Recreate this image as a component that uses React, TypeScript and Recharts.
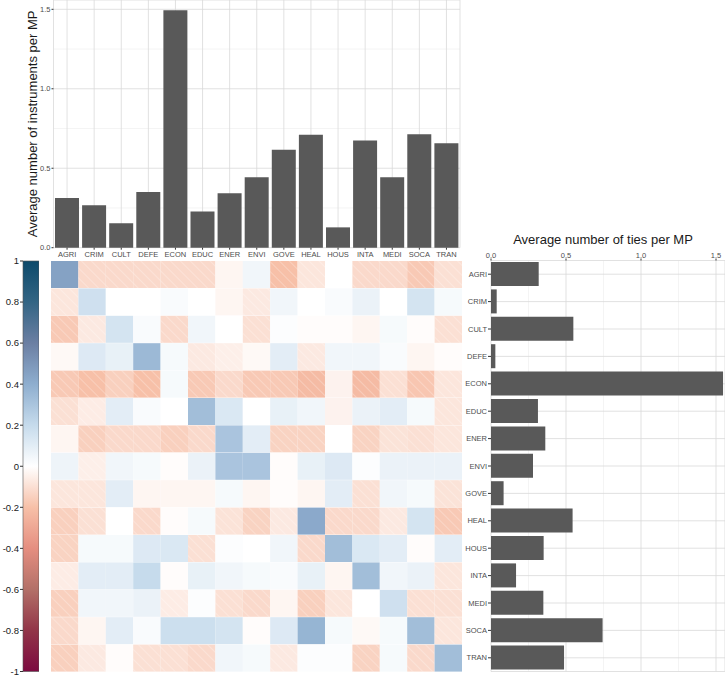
import React from "react";
import {
  BarChart,
  Bar,
  XAxis,
  YAxis,
  CartesianGrid,
} from "recharts";

const CATEGORIES = ["AGRI", "CRIM", "CULT", "DEFE", "ECON", "EDUC", "ENER", "ENVI", "GOVE", "HEAL", "HOUS", "INTA", "MEDI", "SOCA", "TRAN"];

// average number of instruments per MP (top bars)
const INSTRUMENTS = [0.313, 0.267, 0.154, 0.351, 1.494, 0.227, 0.343, 0.443, 0.617, 0.71, 0.128, 0.674, 0.443, 0.714, 0.657];

// average number of ties per MP (right bars)
const TIES = [0.318, 0.038, 0.549, 0.029, 1.547, 0.313, 0.362, 0.28, 0.084, 0.544, 0.351, 0.167, 0.349, 0.744, 0.487];

// association matrix, rows / columns in CATEGORIES order
const MATRIX = [
  [0.45, -0.12, -0.12, -0.12, -0.12, -0.12, -0.03, 0.05, -0.2, -0.08, 0, -0.12, -0.12, -0.17, -0.1],
  [-0.08, 0.17, 0, 0, 0.02, 0, -0.03, -0.07, 0.05, 0, 0.02, 0.07, 0, 0.15, 0.03],
  [-0.17, -0.07, 0.15, 0.02, -0.12, 0.05, 0, -0.1, 0.01, -0.01, -0.01, -0.03, 0.03, -0.01, -0.1],
  [-0.02, 0.12, 0.08, 0.35, 0.03, -0.07, -0.05, -0.02, 0.1, -0.07, 0.05, 0.05, 0.02, -0.03, -0.01],
  [-0.17, -0.2, -0.15, -0.2, 0.03, -0.17, -0.12, -0.17, -0.17, -0.22, -0.04, -0.22, -0.1, -0.18, -0.08],
  [-0.1, -0.06, 0.1, 0.02, 0, 0.33, 0.13, 0, 0.08, 0.05, -0.04, 0.07, 0.1, 0.03, -0.08],
  [-0.03, -0.15, -0.12, -0.12, -0.15, -0.12, 0.3, 0.1, -0.14, -0.14, 0, -0.14, -0.09, -0.1, -0.08],
  [0.06, -0.05, 0.05, 0.03, -0.01, 0.07, 0.3, 0.3, -0.01, 0.08, 0.12, 0.01, 0.07, 0.07, 0.07],
  [-0.08, -0.08, 0.1, -0.03, -0.03, -0.03, 0.03, -0.03, -0.01, -0.03, 0.1, -0.1, 0.05, 0.03, -0.09],
  [-0.15, -0.1, 0, -0.12, -0.01, 0.03, -0.09, -0.14, -0.07, 0.42, -0.12, -0.12, -0.07, 0.15, -0.17],
  [-0.14, 0.03, 0.03, 0.12, 0.13, -0.1, 0.01, 0, 0.05, -0.12, 0.33, 0.13, 0.1, -0.01, 0.1],
  [-0.06, 0.1, 0.1, 0.2, -0.01, 0.08, 0.05, 0.03, 0.02, 0.08, -0.03, 0.33, 0.05, 0.07, -0.08],
  [-0.15, 0.05, 0.05, 0.07, -0.06, 0.01, -0.1, -0.12, -0.03, -0.15, -0.08, 0, 0.17, -0.1, -0.1],
  [-0.12, -0.03, 0.1, 0.02, 0.18, 0.18, 0.15, -0.01, 0.12, 0.37, 0.03, -0.02, 0.03, 0.33, -0.08],
  [-0.15, -0.07, -0.01, -0.1, -0.1, -0.12, 0.05, 0.03, -0.07, 0.01, 0.01, -0.14, 0.03, -0.12, 0.33],
];

const SCALE_TICKS = [1, 0.8, 0.6, 0.4, 0.2, 0, -0.2, -0.4, -0.6, -0.8, -1];
const SCALE_COLORS = ["#0d4a6b", "#336584", "#6b7fa3", "#8eaecf", "#c6dbec", "#ffffff", "#f7c0a8", "#e58e80", "#b37068", "#923548", "#7c0a40"];

const BAR_MAX = 1.5586;
const TIES_MAX = 1.56;
const MINOR = [0.25, 0.75, 1.25];

const FONT = "'Liberation Sans', Arial, sans-serif";
const TICK = { fontSize: 7.5, fill: "#4d4d4d", fontFamily: FONT };
const GRID = "#d9d9d9";

function hexToRgb(h: string) {
  const n = parseInt(h.slice(1), 16);
  return [(n >> 16) & 255, (n >> 8) & 255, n & 255];
}

function colorFor(v: number) {
  // SCALE_TICKS goes from 1 down to -1
  const pos = (1 - v) / 0.2;
  const i = Math.max(0, Math.min(9, Math.floor(pos)));
  const t = pos - i;
  const a = hexToRgb(SCALE_COLORS[i]);
  const b = hexToRgb(SCALE_COLORS[i + 1]);
  const c = a.map((x, k) => Math.round(x + (b[k] - x) * t));
  return `rgb(${c[0]},${c[1]},${c[2]})`;
}

const topData = CATEGORIES.map((c, i) => ({ name: c, value: INSTRUMENTS[i] }));
const tiesData = CATEGORIES.map((c, i) => ({ name: c, value: TIES[i] }));
const heatData = CATEGORIES.map((c, r) => {
  const row: any = { name: c };
  CATEGORIES.forEach((_, j) => {
    row[`c${j}`] = 1;
    row[`v${j}`] = MATRIX[r][j];
  });
  return row;
});
const scaleData = [{ name: "scale", range: [-1, 1] }];

const makeCell = (j: number) => (props: any) => {
  const { x, y, width, height, index } = props;
  const v = MATRIX[index][j];
  return (
    <g>
      <rect x={x} y={y} width={width} height={height} fill={colorFor(v)} />
      {v <= -0.05 && (
        <rect x={x} y={y} width={width} height={height} fill="url(#hatch)" />
      )}
    </g>
  );
};

export default function App(): React.ReactElement {
  return (
    <div style={{ position: "absolute", left: 0, top: 0, width: 725, height: 677, background: "#fff", overflow: "hidden", fontFamily: FONT }}>
      {/* top bars */}
      <div style={{ position: "absolute", left: 0, top: 0 }}>
        <BarChart width={462} height={262} data={topData} margin={{ top: 0, right: 2, left: 0, bottom: 0 }} barCategoryGap="5.5%">
          <CartesianGrid
            vertical={false}
            stroke="#ececec"
            strokeWidth={0.6}
            horizontalCoordinatesGenerator={({ offset }: any) =>
              MINOR.map((v) => offset.top + offset.height * (1 - v / BAR_MAX))
            }
          />
          <CartesianGrid stroke={GRID} strokeWidth={0.8} />
          <XAxis dataKey="name" axisLine={false} tickSize={2} tickLine={{ stroke: "#333" }} tick={TICK} height={14.3} interval={0} />
          <YAxis
            type="number"
            domain={[0, BAR_MAX]}
            ticks={[0, 0.5, 1, 1.5]}
            tickFormatter={(v: number) => v.toFixed(1)}
            axisLine={false}
            tickSize={2}
            tickMargin={1}
            tickLine={{ stroke: "#333" }}
            tick={TICK}
            width={53.5}
            label={{
              value: "Average number of instruments per MP",
              angle: -90,
              position: "center",
              dx: 6,
              style: { fontSize: 13, fill: "#1a1a1a", fontFamily: FONT },
            }}
          />
          <Bar dataKey="value" fill="#595959" isAnimationActive={false} />
        </BarChart>
      </div>

      {/* colour scale */}
      <div style={{ position: "absolute", left: 0, top: 255 }}>
        <BarChart width={39} height={422} data={scaleData} margin={{ top: 6, right: 0, left: 0, bottom: 5.5 }} barCategoryGap={0}>
          <defs>
            <linearGradient id="cbar" x1="0" y1="0" x2="0" y2="1">
              {SCALE_COLORS.map((c, i) => (
                <stop key={i} offset={`${i * 10}%`} stopColor={c} />
              ))}
            </linearGradient>
          </defs>
          <XAxis dataKey="name" hide />
          <YAxis
            type="number"
            domain={[-1, 1]}
            ticks={SCALE_TICKS}
            interval={0}
            tickFormatter={(v: number) => String(+v.toFixed(1))}
            axisLine={false}
            tickSize={3}
            tickMargin={1}
            tickLine={{ stroke: "#333" }}
            tick={{ fontSize: 9.5, fill: "#1a1a1a", fontFamily: FONT }}
            width={23}
          />
          <Bar dataKey="range" fill="url(#cbar)" stroke="#555" strokeWidth={0.6} isAnimationActive={false} />
        </BarChart>
      </div>

      {/* heatmap */}
      <div style={{ position: "absolute", left: 50.5, top: 260.5 }}>
        <BarChart width={411} height={411} data={heatData} layout="vertical" margin={{ top: 0, right: 0, left: 0, bottom: 0 }} barCategoryGap={0}>
          <defs>
            <pattern id="hatch" patternUnits="userSpaceOnUse" width={7} height={7} patternTransform="rotate(-45)">
              <line x1={0} y1={0} x2={0} y2={7} stroke="#ffffff" strokeWidth={0.8} strokeOpacity={0.65} />
            </pattern>
          </defs>
          <XAxis type="number" domain={[0, CATEGORIES.length]} hide />
          <YAxis type="category" dataKey="name" hide />
          {CATEGORIES.map((_, j) => (
            <Bar key={j} dataKey={`c${j}`} stackId="m" shape={makeCell(j)} isAnimationActive={false} />
          ))}
        </BarChart>
      </div>

      {/* right bars */}
      <div style={{ position: "absolute", left: 462, top: 230 }}>
        <BarChart width={263} height={441.5} data={tiesData} layout="vertical" margin={{ top: 0, right: 0, left: 0, bottom: 0 }} barCategoryGap="5.5%">
          <CartesianGrid
            horizontal={false}
            stroke="#ececec"
            strokeWidth={0.6}
            verticalCoordinatesGenerator={({ offset }: any) =>
              MINOR.map((v) => offset.left + (offset.width * v) / TIES_MAX)
            }
          />
          <CartesianGrid stroke={GRID} strokeWidth={0.8} />
          <XAxis
            type="number"
            orientation="top"
            domain={[0, TIES_MAX]}
            ticks={[0, 0.5, 1, 1.5]}
            tickFormatter={(v: number) => v.toFixed(1)}
            axisLine={false}
            tickSize={2}
            tickMargin={1}
            tickLine={{ stroke: "#333" }}
            tick={TICK}
            height={30.5}
            label={{
              value: "Average number of ties per MP",
              position: "insideTop",
              offset: 5,
              dx: -5,
              style: { fontSize: 13, fill: "#1a1a1a", fontFamily: FONT },
            }}
          />
          <YAxis type="category" dataKey="name" axisLine={false} tickSize={3} tickMargin={1} tickLine={{ stroke: "#333" }} tick={TICK} width={29} interval={0} />
          <Bar dataKey="value" fill="#595959" isAnimationActive={false} />
        </BarChart>
      </div>
    </div>
  );
}
